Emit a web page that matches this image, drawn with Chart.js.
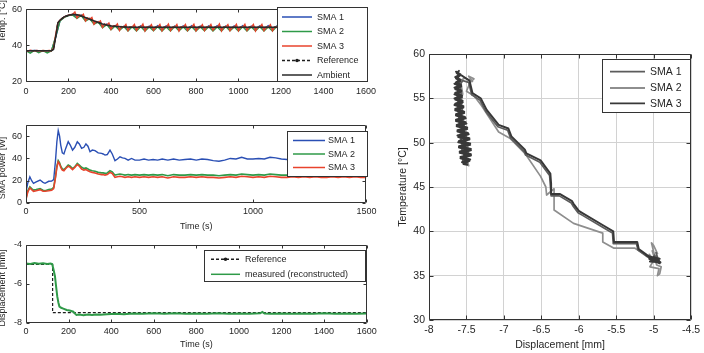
<!DOCTYPE html>
<html><head><meta charset="utf-8">
<script src="https://cdn.jsdelivr.net/npm/chart.js@4.4.0/dist/chart.umd.min.js"></script>
<style>
html,body{margin:0;padding:0;background:#fff;}
body{width:704px;height:353px;position:relative;overflow:hidden;}
canvas{position:absolute;display:block;}
</style></head><body>
<canvas id="c1" width="380" height="110" style="left:0;top:0;width:380px;height:110px"></canvas>
<canvas id="c2" width="380" height="125" style="left:0;top:110px;width:380px;height:125px"></canvas>
<canvas id="c3" width="380" height="118" style="left:0;top:235px;width:380px;height:118px"></canvas>
<canvas id="c4" width="312" height="313" style="left:392px;top:40px;width:312px;height:313px"></canvas>
<script>
// ================= DATA =================
// --- Panel 1: temperature vs time ---
const tempTicksX = [0,200,400,600,800,1000,1200,1400,1600];
const tempTicksY = [20,40,60];
const tempTime10 = Array.from({length:161},(_,i)=>i*10);   // sample times, 10 s
const tempTime20 = Array.from({length:81},(_,i)=>i*20);    // sample times, 20 s
const sma3Temp = [37.0,36.8,37.2,37.0,36.9,37.1,37.0,36.8,37.1,37.0,36.9,37.1,37.0,
 38.5,46.0,52.5,54.0,55.0,55.8,56.3,56.8,57.0,57.3,
 58.5,55.2,56.9,56.3,57.3,53.6,55.2,54.5,55.5,51.8,53.3,52.7,53.6,50.0,51.8,51.3,52.4,48.9,50.8,50.5,51.9,48.3,50.4,50.1,51.6,48.2,50.2,50.0,
 51.5,48.3,50.1,50.0,51.7,48.0,50.2,49.9,51.4,48.4,50.0,50.1,51.6,48.1,50.2,50.0,51.8,48.2,50.1,49.9,
 51.5,48.0,50.3,50.0,51.6,48.3,50.1,50.1,51.7,48.1,50.0,49.9,51.4,48.2,50.2,50.0,51.6,48.4,50.1,50.0,
 51.8,48.0,50.2,50.1,51.5,48.2,50.0,49.9,51.6,48.1,50.1,50.0,51.7,48.3,50.2,50.0,51.5,48.0,50.1,50.1,
 51.6,48.2,50.0,49.9,51.4,48.1,50.2,50.0,51.7,48.3,50.1,50.0,51.6,48.0,50.0,50.1,51.5,48.2,50.2,49.9,
 51.8,48.1,50.1,50.0,51.6,48.3,50.0,50.0,51.5,48.0,50.2,50.1,51.7,48.2,50.1,49.9,51.6,48.1,50.0,50.0,
 51.4,48.3,50.2,50.0,51.6,48.0,50.1,50.1,51.5,48.2];
const sma2Temp = [37.0,35.6,37.1,35.8,37.0,35.7,36.9,45.0,53.5,55.5,56.5,56.8,55.0,56.6,53.5,54.8,51.8,52.9,49.8,51.5,48.7,50.7,48.3,50.4,48.0,50.3,
 47.9,50.3,48.0,50.2,48.1,50.3,47.9,50.2,48.0,50.4,48.1,50.2,47.9,50.3,48.0,50.2,48.1,50.3,47.9,50.2,
 48.0,50.4,48.1,50.2,47.9,50.3,48.0,50.2,48.1,50.3,47.9,50.2,48.0,50.4,48.1,50.2,47.9,50.3,48.0,50.2,
 48.1,50.3,47.9,50.2,48.0,50.4,48.1,50.2,47.9,50.3,48.0,50.2,48.1,50.3,47.9];
const sma1Temp = [37.0,36.9,37.1,37.0,36.9,37.0,37.0,44.5,53.8,55.8,56.7,57.1,56.0,56.8,54.2,55.0,52.4,53.2,50.6,51.8,49.6,51.0,49.2,50.6,49.0,50.4,
 49.1,50.8,49.2,50.7,49.0,50.9,49.1,50.8,49.2,50.7,49.0,50.8,49.1,50.9,49.2,50.7,49.0,50.8,49.1,50.9,
 49.2,50.7,49.0,50.8,49.1,50.9,49.2,50.7,49.0,50.8,49.1,50.9,49.2,50.7,49.0,50.8,49.1,50.9,49.2,50.7,
 49.0,50.8,49.1,50.9,49.2,50.7,49.0,50.8,49.1,50.9,49.2,50.7,49.0,50.8,49.1];
const ambTime = [0,120,130,140,150,160,170,180,190,200,210,220,230,240,250,260,270,280,290,300,320,340,360,380,400,430,460,500,600,800,1000,1200,1400,1600];
const ambTemp = [37,37,37.8,45,52.5,54,55,55.8,56.3,56.7,57,57.2,57.2,57,56.7,56.3,55.9,55.4,55,54.5,53.6,52.7,51.9,51.3,50.8,50.4,50.2,50,50,50,50,50,50,50];
const refTempTime = [0,120,130,140,150,160,180,200,220,240,260,280,300,340,380,420,500,800,1200,1600];
const refTemp = [37,37,37.8,45,52.5,54,55.8,56.7,57.2,57,56.3,55.4,54.5,52.7,51.3,50.6,50,50,50,50];

// --- Panel 2: SMA power vs time ---
const powTicksX = [0,500,1000,1500];
const powTicksY = [0,20,40,60];
const powTime = [0,8,17,25,33,45,62,75,84,100,113,122,130,136,142,148,153,160,167,175,
 186,195,205,215,226,235,245,255,264,273,282,292,304,318,333,340,348,358,370,380,
 392,403,414,425,436,450,465,480,500,520,540,560,580,600,625,650,675,700,725,750,
 775,800,825,850,875,900,925,950,975,1000,1025,1050,1075,1100,1125,1150,1175,1200,1225,1250,
 1275,1300,1325,1350,1375,1400,1425,1450,1475,1500];
const sma1Pow = [10,18,23.5,20,17.6,19,20.6,18.5,17.7,19.5,19.7,21,38,55,65,60,52,45,44,49,
 55,52,47.5,50,55,53,49,50,53,51,46,47.5,47,45,44.5,44,43,43.5,47.5,44,
 38,39.5,41.5,40.5,40,38.5,40,38.5,38.5,39.5,38.5,39,38.5,39.5,38.5,39.5,38.5,39,39.5,38.5,
 39.5,39,38,37.5,38.5,40,39.5,41,39.5,39.5,40,39.5,41,40.5,39.5,39,39.5,39.5,40,39.5,
 39.5,39,39.5,40,39.5,39.5,39,39.5,40,38.5];
const sma2Pow = [4.5,11,14.6,13,11.6,12,13,11.5,11,12,12.5,14,24,33,38,36,33,30.5,30,31.5,
 34,33,31,32.5,35.5,34,32,31,31.5,30.5,29.5,29,28.5,27.5,27,27,26.6,27,29,28,
 25,25.5,26,25.5,25,25.5,25,25.5,25,25.5,25,25.5,25,25.5,24.5,25.5,25,25,25.5,25,
 25.5,25,25,24.5,25,25.5,25,26,25.5,25,25.5,25,26,25.5,25,25,25.5,25,25.5,25,
 25.5,25,25,25.5,25,25.5,25,25.5,25,25];
const sma3Pow = [3,10,13.5,12,10.5,11,12,10.5,10.5,11,11.5,13,23,32,37,35,32,29.5,29,31,
 33,32,30,32,34.5,33,30.5,29.5,30,29,28,27.5,27,26,25.5,25.5,25,25.5,27.5,26.5,
 23,23.5,24,23.5,23,23.5,23,23.5,23,23.5,23,23.5,23,23.5,22.5,23.5,23,23,23.5,23,
 23.5,23,23,22.5,23,23.5,23,24,23.5,23,23.5,23,24,23.5,23,23,23.5,23,23.5,23,
 23.5,23,23,23.5,23,23.5,23,23.5,23,23];

// --- Panel 3: displacement vs time ---
const dispTicksX = [0,200,400,600,800,1000,1200,1400,1600];
const dispTicksY = [-8,-6,-4];
const measTime = [0,20,40,60,80,100,115,123,130,136,141,147,152,157,165,175,191,205,222,230,237,250,270,290,310,330,350,380,420,460,500,550,600,650,700,750,800,850,900,950,1000,1050,1100,1110,1120,1150,1200,1250,1300,1350,1400,1450,1500,1550,1600];
const measDisp = [-4.95,-4.97,-4.93,-4.96,-4.94,-4.97,-4.95,-4.98,-5.3,-5.6,-6.1,-6.65,-6.95,-7.16,-7.22,-7.26,-7.33,-7.36,-7.42,-7.52,-7.59,-7.57,-7.6,-7.57,-7.59,-7.56,-7.58,-7.55,-7.53,-7.55,-7.51,-7.53,-7.5,-7.52,-7.5,-7.52,-7.51,-7.53,-7.5,-7.52,-7.51,-7.52,-7.5,-7.43,-7.51,-7.52,-7.51,-7.53,-7.51,-7.52,-7.5,-7.53,-7.51,-7.52,-7.51];
const refDispTime = [0,125,125,1600];
const refDisp = [-5,-5,-7.47,-7.47];

// --- Panel 4: temperature vs displacement ---
const phaseTicksX = [-8,-7.5,-7,-6.5,-6,-5.5,-5,-4.5];
const phaseTicksY = [30,35,40,45,50,55,60];
const sma1Disp = [-4.95,-4.99,-4.93,-4.97,-4.94,-5.0,-4.96,-5.08,-5.21,-5.23,-5.54,-5.55,-5.67,-5.95,-6.01,-6.08,-6.1,-6.26,-6.37,-6.38,-6.39,-6.52,-6.71,-6.73,-6.91,-6.95,-7.08,-7.24,-7.32,-7.43,-7.47,
 -7.55,-7.62,-7.56,-7.61,-7.52,-7.58,-7.47,-7.55,-7.49,-7.57,-7.5,-7.6,-7.55,-7.63,-7.58,-7.61,-7.57,-7.62,-7.53,-7.58,-7.48];
const sma1Tmp = [36.9,37.3,36.6,37.6,36.8,37.2,36.7,37.1,37.9,38.6,38.6,39.8,40.4,41.8,42.1,42.9,43.2,44.0,44.0,45.2,46.3,47.8,48.6,49.0,50.5,51.4,51.8,53.5,54.8,55.4,56.8,
 57.0,56.0,54.5,53.0,51.5,50.2,49.0,48.0,47.6,49.5,50.8,52.2,53.6,55.0,56.2,57.4,55.5,54.0,52.0,50.5,48.8];
const sma2Disp = [-4.95,-5.0,-5.03,-4.98,-5.05,-4.93,-4.95,-4.92,-4.9,-4.96,-5.02,-4.97,-5.06,-5.03,
 -5.07,-5.25,-5.53,-5.68,-5.68,-6.07,-6.33,-6.33,-6.43,-6.44,-6.51,-6.72,-6.92,-7.07,-7.3,-7.4,
 -7.5,-7.45,-7.4,-7.47,-7.42,-7.52,-7.58,-7.55,-7.6,-7.54,-7.58,-7.48,-7.54,-7.47,-7.52,-7.58,-7.53,-7.61,-7.56,-7.62];
const sma2Tmp = [37.5,38.4,38.7,37.0,36.0,35.8,35.0,35.2,36.0,36.2,37.8,36.5,37.4,36.9,
 37.15,38.1,38.1,38.8,39.8,40.9,42.4,44.8,44.1,45.0,46.2,48.8,50.5,51.2,54.2,55.3,
 55.8,56.8,57.2,57.5,56.9,57.3,57.0,55.5,54.0,52.5,51.0,49.5,48.2,47.4,48.8,50.3,51.8,53.4,55.0,56.4];
const sma3Disp = [-4.93,-5.08,-4.92,-5.05,-4.91,-5.0,-4.93,-5.06,-4.92,-4.99,-5.1,-4.94,
 -5.07,-5.2,-5.22,-5.53,-5.54,-5.66,-5.94,-6.0,-6.07,-6.09,-6.25,-6.36,-6.37,-6.38,-6.51,-6.7,-6.72,-6.9,-6.94,-7.07,-7.23,-7.31,-7.42,-7.46,
 -7.64,-7.58,-7.65,-7.58,-7.64,-7.57,-7.66,-7.57,-7.65,-7.56,-7.66,-7.55,-7.65,-7.54,-7.65,-7.53,-7.64,-7.52,-7.64,-7.51,-7.63,-7.49,-7.62,-7.48,-7.62,-7.46,-7.6,-7.45,-7.6,-7.44,-7.59,-7.44,-7.58,-7.45,-7.56,-7.49,
 -7.54,-7.46,-7.58,-7.44,-7.59,-7.44,-7.6,-7.45,-7.61,-7.46,-7.61,-7.47,-7.62,-7.49,-7.63,-7.5,-7.64,-7.51,-7.64,-7.53,-7.65,-7.54,-7.66,-7.55,-7.65,-7.56,-7.66,-7.57,-7.65,-7.57,-7.66,-7.58,-7.64,-7.59,-7.63,-7.6];
const sma3Tmp = [36.6,37.2,36.9,36.6,36.5,37.1,36.8,36.9,36.4,36.7,37.3,36.8,
 37.2,38.0,38.8,38.8,40.0,40.6,42.0,42.3,43.1,43.4,44.2,44.2,45.4,46.5,48.0,48.8,49.2,50.7,51.6,52.0,53.7,55.0,55.6,57.0,
 58.0,57.7,57.4,57.1,56.8,56.5,56.2,55.9,55.6,55.3,55.0,54.7,54.4,54.1,53.8,53.5,53.2,52.9,52.6,52.3,52.0,51.7,51.4,51.1,50.8,50.5,50.2,49.9,49.6,49.3,49.0,48.7,48.4,48.1,47.8,47.5,
 47.6,47.95,48.25,48.55,48.85,49.15,49.45,49.75,50.05,50.35,50.65,50.95,51.25,51.55,51.85,52.15,52.45,52.75,53.05,53.35,53.65,53.95,54.25,54.55,54.85,55.15,55.45,55.75,56.05,56.35,56.65,56.95,57.25,57.55,57.85,58.1];

// ================= HELPERS / PLUGINS =================
const FAM = "'Liberation Sans', Arial, Helvetica, sans-serif";
Chart.defaults.font.family = FAM;
Chart.defaults.color = '#262626';
Chart.defaults.animation = false;
const xy = (xs, ys) => xs.map((x, i) => ({x, y: ys[i]}));

const framePlugin = {
  id: 'frame',
  afterDatasetsDraw(chart, args, o) {
    const {ctx, chartArea: a, scales} = chart;
    const L = Math.round(a.left) + 0.5, R = Math.round(a.right) - 0.5;
    const T = Math.round(a.top) + 0.5, B = Math.round(a.bottom) - 0.5;
    const tl = o.tick || 3;
    ctx.save();
    ctx.strokeStyle = o.color || '#333';
    ctx.lineWidth = 1;
    ctx.setLineDash([]);
    ctx.beginPath();
    ctx.rect(L, T, R - L, B - T);
    scales.x.ticks.forEach(t => {
      const p = Math.round(scales.x.getPixelForValue(t.value)) + 0.5;
      ctx.moveTo(p, B); ctx.lineTo(p, B - tl);
      ctx.moveTo(p, T); ctx.lineTo(p, T + tl);
    });
    scales.y.ticks.forEach(t => {
      const p = Math.round(scales.y.getPixelForValue(t.value)) + 0.5;
      ctx.moveTo(L, p); ctx.lineTo(L + tl, p);
      ctx.moveTo(R, p); ctx.lineTo(R - tl, p);
    });
    ctx.stroke();
    ctx.restore();
  }
};

const boxLegendPlugin = {
  id: 'boxLegend',
  afterDatasetsDraw(chart, args, o) {
    if (!o || !o.labels) return;
    const ctx = chart.ctx;
    ctx.save();
    ctx.fillStyle = '#fff';
    ctx.fillRect(o.x, o.y, o.w, o.h);
    ctx.strokeStyle = '#333';
    ctx.lineWidth = 1;
    ctx.setLineDash([]);
    ctx.strokeRect(o.x + 0.5, o.y + 0.5, o.w - 1, o.h - 1);
    ctx.font = o.font;
    ctx.textBaseline = 'middle';
    ctx.textAlign = 'left';
    o.labels.forEach((lab, i) => {
      const ds = chart.data.datasets.find(d => d.label === lab);
      const y = o.rows[i];
      ctx.strokeStyle = ds.borderColor;
      ctx.lineWidth = o.lw;
      ctx.setLineDash(ds.borderDash || []);
      ctx.beginPath();
      ctx.moveTo(o.x1, y); ctx.lineTo(o.x2, y);
      ctx.stroke();
      ctx.setLineDash([]);
      if (ds.legendMarker) {
        ctx.fillStyle = ds.borderColor;
        ctx.beginPath();
        ctx.arc((o.x1 + o.x2) / 2, y, 1.8, 0, Math.PI * 2);
        ctx.fill();
      }
      ctx.fillStyle = '#262626';
      ctx.fillText(lab, o.tx, y + 0.5);
    });
    ctx.restore();
  }
};

const sideTitlePlugin = {
  id: 'sideTitle',
  afterDraw(chart, args, o) {
    if (!o || !o.text) return;
    const ctx = chart.ctx;
    ctx.save();
    ctx.translate(o.x, o.y);
    ctx.rotate(-Math.PI / 2);
    ctx.font = o.font;
    ctx.fillStyle = '#262626';
    ctx.textAlign = 'center';
    ctx.textBaseline = 'middle';
    ctx.fillText(o.text, 0, 0);
    ctx.restore();
  }
};

function lineDs(label, data, color, width, order, extra) {
  return Object.assign({label, data, borderColor: color, backgroundColor: color,
    borderWidth: width, pointRadius: 0, showLine: true, fill: false, tension: 0, order}, extra || {});
}

const noGrid = {display: false, drawTicks: false, tickLength: 0};
function axisX(min, max, tickVals, h, pad, font, title, extra) {
  return Object.assign({
    type: 'linear', min, max,
    grid: noGrid, border: {display: false},
    ticks: {padding: pad, font: {size: font}, color: '#262626', maxRotation: 0, autoSkip: false, callback: v => String(v)},
    title: title || {display: false},
    afterBuildTicks: s => { s.ticks = tickVals.map(v => ({value: v})); },
    afterFit: s => { s.height = h; }
  }, extra || {});
}
function axisY(min, max, tickVals, w, pad, font, title, extra) {
  return Object.assign({
    type: 'linear', min, max,
    grid: noGrid, border: {display: false},
    ticks: {padding: pad, font: {size: font}, color: '#262626', autoSkip: false, callback: v => String(v)},
    title: title || {display: false},
    afterBuildTicks: s => { s.ticks = tickVals.map(v => ({value: v})); },
    afterFit: s => { s.width = w; }
  }, extra || {});
}

const BLUE = '#2a4fb4', GREEN = '#2f9a48', RED = '#e8432c', BLACK = '#1e1e1e';
const plugins = [framePlugin, boxLegendPlugin, sideTitlePlugin];

// ================= PANEL 1 =================
new Chart(document.getElementById('c1'), {
  type: 'scatter',
  data: {datasets: [
    lineDs('SMA 1', xy(tempTime20, sma1Temp), BLUE, 1.4, 4),
    lineDs('SMA 2', xy(tempTime20, sma2Temp), GREEN, 1.4, 3),
    lineDs('SMA 3', xy(tempTime10, sma3Temp), RED, 1.5, 2),
    lineDs('Reference', xy(refTempTime, refTemp), BLACK, 1.2, 1, {borderDash: [3, 2], legendMarker: true}),
    lineDs('Ambient', xy(ambTime, ambTemp), '#2a2a2a', 1.5, 0)
  ]},
  options: {
    responsive: false, animation: false, events: [],
    layout: {padding: {top: 7, right: 12, left: 0, bottom: 0}, autoPadding: false},
    plugins: {
      legend: {display: false}, tooltip: {enabled: false},
      frame: {tick: 3},
      boxLegend: {x: 277, y: 7, w: 91, h: 75, rows: [17, 31.5, 46, 60.5, 75], x1: 282, x2: 312, tx: 317, lw: 1.5,
        font: "9px " + FAM, labels: ['SMA 1', 'SMA 2', 'SMA 3', 'Reference', 'Ambient']},
      sideTitle: {text: 'Temp. [°C]', x: 2.5, y: 21, font: "9px " + FAM}
    },
    scales: {
      x: axisX(0, 1600, tempTicksX, 28, 4, 9),
      y: axisY(19.5, 60, tempTicksY, 26, 4, 9)
    }
  },
  plugins
});

// ================= PANEL 2 =================
new Chart(document.getElementById('c2'), {
  type: 'scatter',
  data: {datasets: [
    lineDs('SMA 1', xy(powTime, sma1Pow), BLUE, 1.4, 2),
    lineDs('SMA 2', xy(powTime, sma2Pow), GREEN, 1.6, 1),
    lineDs('SMA 3', xy(powTime, sma3Pow), RED, 1.6, 0)
  ]},
  options: {
    responsive: false, animation: false, events: [],
    layout: {padding: {top: 15, right: 12, left: 0, bottom: 0}, autoPadding: false},
    plugins: {
      legend: {display: false}, tooltip: {enabled: false},
      frame: {tick: 3},
      boxLegend: {x: 287, y: 21, w: 81, h: 46, rows: [30.5, 44, 57.5], x1: 293, x2: 325, tx: 328, lw: 1.5,
        font: "9px " + FAM, labels: ['SMA 1', 'SMA 2', 'SMA 3']},
      sideTitle: {text: 'SMA power [W]', x: 2.5, y: 58, font: "9px " + FAM}
    },
    scales: {
      x: axisX(0, 1500, powTicksX, 32, 3.5, 9,
        {display: true, text: 'Time (s)', font: {size: 9}, color: '#262626', padding: {top: 0, bottom: 2.6}}),
      y: axisY(0, 70, powTicksY, 26, 4, 9)
    }
  },
  plugins
});

// ================= PANEL 3 =================
new Chart(document.getElementById('c3'), {
  type: 'scatter',
  data: {datasets: [
    lineDs('Reference', xy(refDispTime, refDisp), BLACK, 1.2, 1, {borderDash: [3, 2], legendMarker: true}),
    lineDs('measured (reconstructed)', xy(measTime, measDisp), GREEN, 2, 0)
  ]},
  options: {
    responsive: false, animation: false, events: [],
    layout: {padding: {top: 10, right: 12, left: 0, bottom: 0}, autoPadding: false},
    plugins: {
      legend: {display: false}, tooltip: {enabled: false},
      frame: {tick: 3},
      boxLegend: {x: 204, y: 15, w: 162, h: 32, rows: [24.3, 39.3], x1: 211, x2: 240, tx: 245, lw: 1.5,
        font: "9px " + FAM, labels: ['Reference', 'measured (reconstructed)']},
      sideTitle: {text: 'Displacement [mm]', x: 2.5, y: 53, font: "9px " + FAM}
    },
    scales: {
      x: axisX(0, 1600, dispTicksX, 30, 3.3, 9,
        {display: true, text: 'Time (s)', font: {size: 9}, color: '#262626', padding: {top: 0, bottom: 2.6}}),
      y: axisY(-8, -4, dispTicksY, 26, 4, 9)
    }
  },
  plugins
});

// ================= PANEL 4 =================
const gridOpt = {display: true, color: '#d2d2d2', lineWidth: 1, drawTicks: false, tickLength: 0};
const roundJoin = {borderJoinStyle: 'round', borderCapStyle: 'round'};
new Chart(document.getElementById('c4'), {
  type: 'scatter',
  data: {datasets: [
    lineDs('SMA 1', xy(sma1Disp, sma1Tmp), '#5c5c5c', 1.7, 1, roundJoin),
    lineDs('SMA 2', xy(sma2Disp, sma2Tmp), '#8e8e8e', 1.7, 2, roundJoin),
    lineDs('SMA 3', xy(sma3Disp, sma3Tmp), '#383838', 2.0, 0, roundJoin)
  ]},
  options: {
    responsive: false, animation: false, events: [],
    layout: {padding: {top: 14, right: 7, left: 0, bottom: 0}, autoPadding: false},
    plugins: {
      legend: {display: false}, tooltip: {enabled: false},
      frame: {tick: 4},
      boxLegend: {x: 210, y: 19, w: 89, h: 54, rows: [31.7, 48, 63.3], x1: 218, x2: 253, tx: 258, lw: 1.8,
        font: "10.5px " + FAM, labels: ['SMA 1', 'SMA 2', 'SMA 3']}
    },
    scales: {
      x: axisX(-8, -4.5, phaseTicksX, 33, 3.8, 10.5,
        {display: true, text: 'Displacement [mm]', font: {size: 10.5}, color: '#262626', padding: {top: 0, bottom: 1.7}},
        {grid: gridOpt}),
      y: axisY(30, 60, phaseTicksY, 37, 4, 10.5,
        {display: true, text: 'Temperature [°C]', font: {size: 10.5}, color: '#262626', padding: {top: 5, bottom: 0}},
        {grid: gridOpt})
    }
  },
  plugins
});
</script>
</body></html>
